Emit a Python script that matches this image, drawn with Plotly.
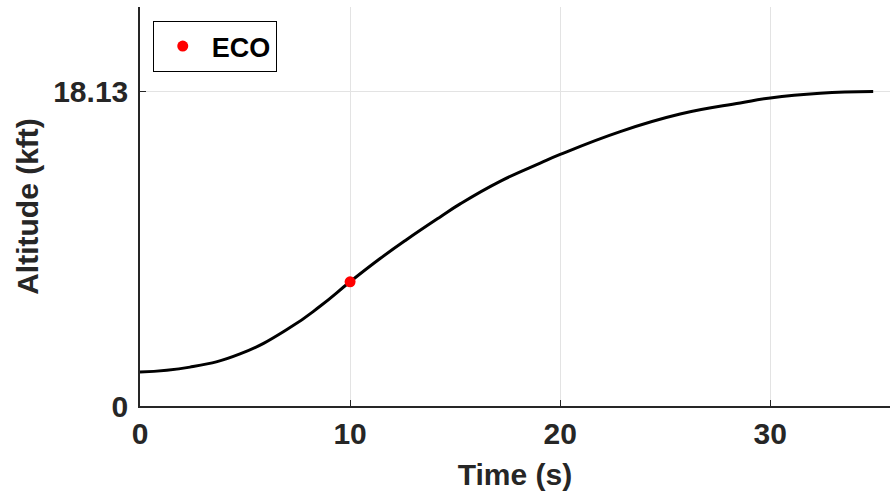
import plotly.graph_objects as go

# Altitude profile (kft) versus time (s)
time_s = [0, 2.38, 4.76, 7.14, 8.57, 10, 11.43, 12.7, 14.29, 15.24, 17.14,
          19.05, 20, 22.86, 25.71, 28.57, 30, 32.38, 34.9]
altitude_kft = [1.96, 2.24, 3.0, 4.52, 5.75, 7.16, 8.5, 9.6, 10.9, 11.65, 12.95,
                14.0, 14.5, 15.82, 16.83, 17.47, 17.76, 18.03, 18.13]

# Engine cut-off event
eco_time = [10]
eco_alt = [7.16]

x_ticks = [0, 10, 20, 30]
y_ticks = [0, 18.13]
y_tick_labels = ["0", "18.13"]

font_family = "Liberation Sans, Arial, sans-serif"
axis_color = "#262626"
grid_color = "#e3e3e3"

fig = go.Figure()
fig.add_trace(go.Scatter(
    x=time_s, y=altitude_kft, mode="lines",
    line=dict(color="black", width=3, shape="spline", smoothing=1.3),
    showlegend=False, hoverinfo="skip",
))
fig.add_trace(go.Scatter(
    x=eco_time, y=eco_alt, mode="markers", name="ECO",
    marker=dict(color="#ff0000", size=11),
))

fig.update_layout(
    width=892, height=494,
    margin=dict(l=140, r=2, t=7, b=88),
    paper_bgcolor="white", plot_bgcolor="white",
    font=dict(family=font_family, color=axis_color, size=30, weight="bold"),
    legend=dict(
        x=0.017, y=0.965, xanchor="left", yanchor="top",
        bgcolor="white", bordercolor="black", borderwidth=1,
        font=dict(family=font_family, size=27, color="black", weight="bold"),
        itemwidth=48, tracegroupgap=0,
    ),
)
fig.update_xaxes(
    range=[0, 35.7], tickmode="array", tickvals=x_ticks,
    showgrid=True, gridcolor=grid_color, gridwidth=1,
    showline=True, linecolor=axis_color, linewidth=1.5,
    ticks="inside", ticklen=6, tickcolor=axis_color,
    zeroline=False,
    title=dict(text="Time (s)", standoff=15,
               font=dict(family=font_family, size=30, color=axis_color, weight="bold")),
    tickfont=dict(family=font_family, size=30, color=axis_color, weight="bold"),
)
fig.update_yaxes(
    range=[0, 23.0], tickmode="array", tickvals=y_ticks, ticktext=y_tick_labels,
    showgrid=True, gridcolor=grid_color, gridwidth=1,
    showline=True, linecolor=axis_color, linewidth=1.5,
    ticks="inside", ticklen=6, tickcolor=axis_color,
    zeroline=False, ticklabelstandoff=4,
    title=dict(text="Altitude (kft)", standoff=6,
               font=dict(family=font_family, size=30, color=axis_color, weight="bold")),
    tickfont=dict(family=font_family, size=30, color=axis_color, weight="bold"),
)

fig.write_html("out.html")
